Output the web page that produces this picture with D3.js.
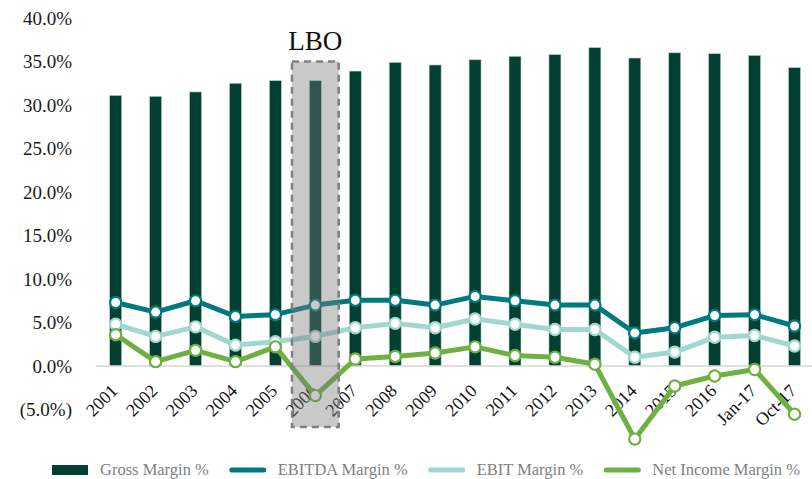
<!DOCTYPE html>
<html>
<head>
<meta charset="utf-8">
<script src="https://cdn.jsdelivr.net/npm/d3@7"></script>
<style>
  html, body { margin: 0; padding: 0; background: #fff; }
  svg { display: block; font-family: "Liberation Serif", "DejaVu Serif", serif; }
</style>
</head>
<body>
<svg id="chart" width="812" height="479"></svg>
<script>
// Periods on the x axis
const categories = ["2001","2002","2003","2004","2005","2006","2007","2008","2009",
  "2010","2011","2012","2013","2014","2015","2016","Jan-17","Oct-17"];

// Margins in percent
const grossMargin   = [31.1, 31.0, 31.5, 32.5, 32.8, 32.8, 33.9, 34.9, 34.6,
  35.2, 35.6, 35.8, 36.6, 35.4, 36.0, 35.9, 35.7, 34.3];
const ebitdaMargin  = [7.3, 6.2, 7.5, 5.7, 5.9, 7.0, 7.55, 7.55, 7.0,
  8.0, 7.5, 7.0, 7.0, 3.8, 4.4, 5.8, 5.9, 4.6];
const ebitMargin    = [4.8, 3.4, 4.5, 2.4, 2.8, 3.4, 4.4, 4.9, 4.4,
  5.4, 4.8, 4.2, 4.2, 1.0, 1.6, 3.3, 3.5, 2.3];
const netIncMargin  = [3.6, 0.5, 1.8, 0.5, 2.2, -3.4, 0.8, 1.1, 1.5,
  2.2, 1.2, 1.0, 0.2, -8.4, -2.3, -1.15, -0.4, -5.55];

// Y axis ticks
const yTicks = [-5, 0, 5, 10, 15, 20, 25, 30, 35, 40];

// Highlighted LBO period
const lboCategory = "2006";
const lboLabel = "LBO";
const lboRange = [-7.0, 35];

const seriesNames = ["Gross Margin %", "EBITDA Margin %", "EBIT Margin %", "Net Income Margin %"];
const colors = {
  gross: "#034032",
  ebitda: "#007a80",
  ebit: "#a0d8d0",
  net: "#6fb043"
};

const svg = d3.select("#chart");

const x = d3.scaleBand()
  .domain(categories)
  .range([95.7, 814.5])
  .paddingInner(0.7)
  .paddingOuter(0.35);

const y = d3.scaleLinear()
  .domain([-5, 40])
  .range([409.5, 18]);

const cx = c => x(c) + x.bandwidth() / 2;

// Y axis labels
const fmt = v => v < 0 ? "(" + d3.format(".1f")(-v) + "%)" : d3.format(".1f")(v) + "%";
const yAxis = d3.axisLeft(y).tickValues(yTicks).tickFormat(fmt).tickSize(0).tickPadding(0);
const gy = svg.append("g").attr("transform", "translate(72,0)").call(yAxis);
gy.select(".domain").remove();
gy.selectAll("text")
  .attr("font-family", "Liberation Serif, serif")
  .attr("font-size", 19)
  .attr("fill", "#1a1a1a");

// Gross margin bars
svg.append("g").selectAll("rect")
  .data(categories)
  .join("rect")
  .attr("x", d => x(d))
  .attr("width", x.bandwidth())
  .attr("y", (d, i) => y(grossMargin[i]))
  .attr("height", (d, i) => y(0) - y(grossMargin[i]))
  .attr("fill", colors.gross)
  .attr("stroke", "#b8d2ca")
  .attr("stroke-width", 0.6);

// Zero baseline
svg.append("line")
  .attr("x1", 96).attr("x2", 812)
  .attr("y1", y(0)).attr("y2", y(0))
  .attr("stroke", "#d6d6d6")
  .attr("stroke-width", 1.5);

// X axis labels, rotated
const xAxis = d3.axisBottom(x).tickSize(0).tickPadding(0);
const gx = svg.append("g").attr("transform", `translate(0,${y(0)})`).call(xAxis);
gx.select(".domain").remove();
gx.selectAll("text")
  .attr("font-family", "Liberation Serif, serif")
  .attr("font-size", 18)
  .attr("fill", "#111")
  .attr("text-anchor", "end")
  .attr("dy", null)
  .attr("y", 0)
  .attr("transform", "translate(3,26) rotate(-45)");

// Margin lines with hollow markers
const lineSeries = [
  { key: "ebitda", values: ebitdaMargin, color: colors.ebitda },
  { key: "ebit", values: ebitMargin, color: colors.ebit },
  { key: "net", values: netIncMargin, color: colors.net }
];
const line = d3.line()
  .x((d, i) => cx(categories[i]))
  .y(d => y(d));

lineSeries.forEach(s => {
  const g = svg.append("g");
  g.append("path")
    .datum(s.values)
    .attr("d", line)
    .attr("fill", "none")
    .attr("stroke", s.color)
    .attr("stroke-width", 5)
    .attr("stroke-linejoin", "round");
  g.selectAll("circle")
    .data(s.values)
    .join("circle")
    .attr("cx", (d, i) => cx(categories[i]))
    .attr("cy", d => y(d))
    .attr("r", 5.6)
    .attr("fill", "#fff")
    .attr("stroke", s.color)
    .attr("stroke-width", 2.2);
});

// LBO highlight box
const lboHalf = x.step() * 0.585;
svg.append("rect")
  .attr("x", cx(lboCategory) - lboHalf)
  .attr("width", lboHalf * 2)
  .attr("y", y(lboRange[1]))
  .attr("height", y(lboRange[0]) - y(lboRange[1]))
  .attr("fill", "rgb(121,121,121)")
  .attr("fill-opacity", 0.4)
  .attr("stroke", "#7f7f7f")
  .attr("stroke-width", 2.5)
  .attr("stroke-dasharray", "7,5");

svg.append("text")
  .attr("x", cx(lboCategory))
  .attr("y", 50)
  .attr("text-anchor", "middle")
  .attr("font-size", 27)
  .attr("fill", "#111")
  .text(lboLabel);

// Legend
const legendY = 470;
const legendItems = [
  { name: seriesNames[0], color: colors.gross, type: "rect" },
  { name: seriesNames[1], color: colors.ebitda, type: "line" },
  { name: seriesNames[2], color: colors.ebit, type: "line" },
  { name: seriesNames[3], color: colors.net, type: "line" }
];
let lx = 52;
legendItems.forEach(item => {
  const g = svg.append("g");
  if (item.type === "rect") {
    g.append("rect")
      .attr("x", lx).attr("y", legendY - 5)
      .attr("width", 36).attr("height", 10)
      .attr("fill", item.color);
  } else {
    g.append("line")
      .attr("x1", lx + 2).attr("x2", lx + 34)
      .attr("y1", legendY).attr("y2", legendY)
      .attr("stroke", item.color)
      .attr("stroke-width", 5)
      .attr("stroke-linecap", "round");
  }
  const t = g.append("text")
    .attr("x", lx + 48)
    .attr("y", legendY + 5)
    .attr("font-size", 16.5)
    .attr("fill", "#7f7f7f")
    .text(item.name);
  lx += 48 + t.node().getComputedTextLength() + 21;
});
</script>
</body>
</html>
